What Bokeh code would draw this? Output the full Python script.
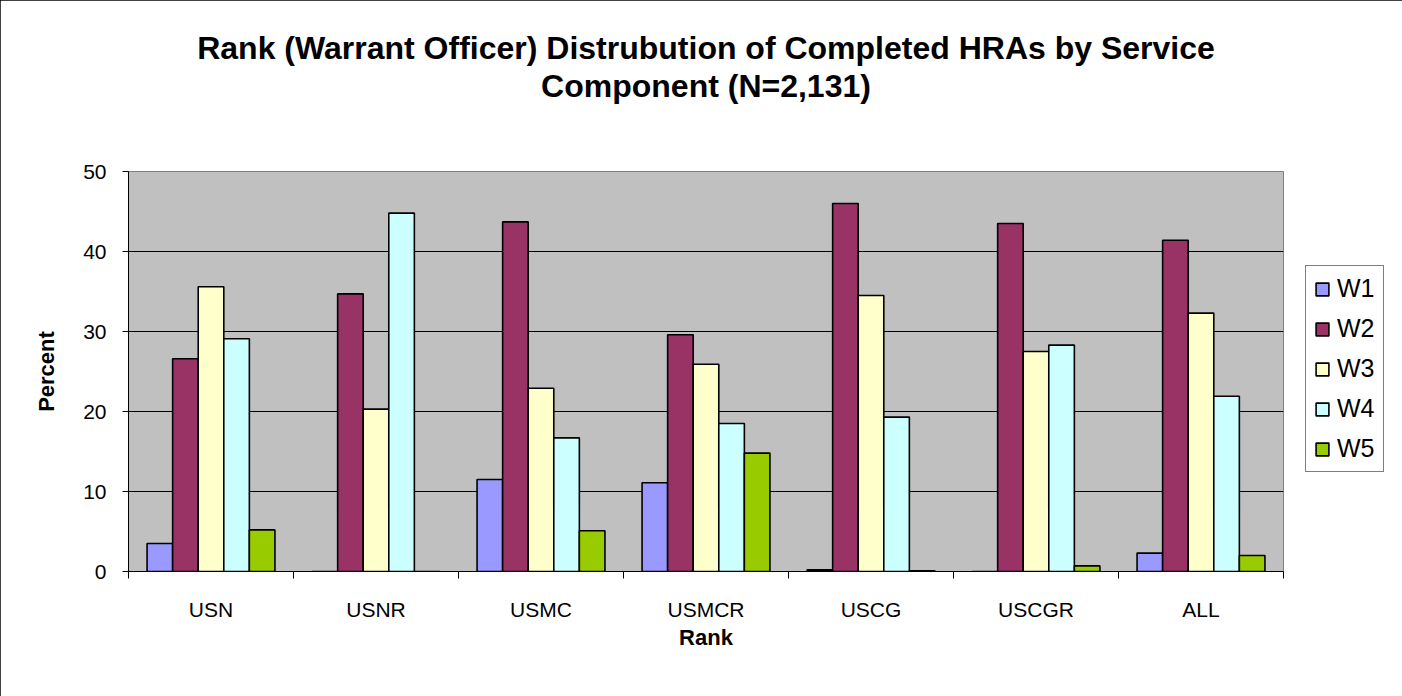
from bokeh.plotting import figure
from bokeh.models import (ColumnDataSource, Range1d, FixedTicker, Legend, LegendItem, Title)
from bokeh.embed import file_html
from bokeh.resources import INLINE

# ---------------- data ----------------
components = ["USN", "USNR", "USMC", "USMCR", "USCG", "USCGR", "ALL"]
series_names = ["W1", "W2", "W3", "W4", "W5"]
w1 = [3.5, 0.0, 11.5, 11.1, 0.2, 0.0, 2.3]
w2 = [26.6, 34.7, 43.7, 29.6, 46.0, 43.5, 41.4]
w3 = [35.6, 20.3, 22.9, 25.9, 34.5, 27.5, 32.3]
w4 = [29.1, 44.8, 16.7, 18.5, 19.3, 28.3, 21.9]
w5 = [5.2, 0.0, 5.1, 14.8, 0.1, 0.7, 2.0]
series_values = [w1, w2, w3, w4, w5]
colors = ["#9999FF", "#993366", "#FFFFCC", "#CCFFFF", "#99CC00"]
y_ticks = [0, 10, 20, 30, 40, 50]
title_lines = ["Rank (Warrant Officer) Distrubution of Completed HRAs by Service",
               "Component (N=2,131)"]

FONT = "Liberation Sans"
bar_w = 0.155

p = figure(frame_width=1155, frame_height=400, output_backend="svg", toolbar_location=None,
           x_range=Range1d(0, len(components)), y_range=Range1d(0, 50),
           min_border_left=128, min_border_right=118, min_border_top=171,
           min_border_bottom=125)
p.background_fill_color = "#C0C0C0"
p.border_fill_color = "white"
p.outline_line_color = "#808080"
p.outline_line_width = 1
p.styles = {"outline": "1px solid black", "outline-offset": "-1px"}

# title: two centred lines (p.title is the outer one)
p.title.text = title_lines[0]
p.title.align = "center"
p.title.text_font = FONT
p.title.text_font_size = "32px"
p.title.text_font_style = "bold"
p.title.text_color = "black"
p.title.standoff = 0
p.add_layout(Title(text=title_lines[1], align="center",
                   text_font=FONT, text_font_size="32px", text_font_style="bold",
                   text_color="black", standoff=0, padding=(0, 0, 0, 68)), "above")

items = []
for j, (name, vals) in enumerate(zip(series_names, series_values)):
    xs = [i + 0.5 + (j - 2) * bar_w for i in range(len(components))]
    src = ColumnDataSource(dict(x=xs, top=vals, comp=components))
    r = p.vbar(x="x", top="top", bottom=0, width=bar_w, source=src,
               fill_color=colors[j], line_color="black", line_width=1.6)
    items.append(LegendItem(label=name, renderers=[r]))

# grid
p.xgrid.visible = False
p.ygrid.ticker = FixedTicker(ticks=y_ticks)
p.ygrid.grid_line_color = "black"
p.ygrid.grid_line_width = 1

# y axis
p.yaxis.ticker = FixedTicker(ticks=y_ticks)
p.yaxis.axis_label = "Percent"
p.yaxis.axis_label_text_font = FONT
p.yaxis.axis_label_text_font_size = "22px"
p.yaxis.axis_label_text_font_style = "bold"
p.yaxis.axis_label_text_color = "black"
p.yaxis.axis_label_standoff = 21
p.yaxis.major_label_text_font = FONT
p.yaxis.major_label_text_font_size = "21px"
p.yaxis.major_label_text_color = "black"
p.yaxis.major_label_standoff = 16
p.yaxis.major_tick_out = 6
p.yaxis.major_tick_in = 0
p.yaxis.minor_tick_line_color = None
p.yaxis.axis_line_color = "black"
p.yaxis.major_tick_line_color = "black"

# x axis: labels at group centres, ticks at group boundaries
centers = [i + 0.5 for i in range(len(components))]
bounds = [float(i) for i in range(len(components) + 1)]
p.xaxis.ticker = FixedTicker(ticks=centers, minor_ticks=bounds)
p.xaxis.major_label_overrides = {c: n for c, n in zip(centers, components)}
p.xaxis.major_tick_out = 0
p.xaxis.major_tick_in = 0
p.xaxis.minor_tick_out = 7
p.xaxis.minor_tick_in = 0
p.xaxis.minor_tick_line_color = "black"
p.xaxis.axis_line_color = "black"
p.xaxis.major_label_text_font = FONT
p.xaxis.major_label_text_font_size = "21px"
p.xaxis.major_label_text_color = "black"
p.xaxis.major_label_standoff = 19
p.xaxis.axis_label = "Rank"
p.xaxis.axis_label_text_font = FONT
p.xaxis.axis_label_text_font_size = "22px"
p.xaxis.axis_label_text_font_style = "bold"
p.xaxis.axis_label_text_color = "black"
p.xaxis.axis_label_standoff = 1

legend = Legend(items=items, location=(22, 99))
legend.label_text_font = FONT
legend.label_text_font_size = "25px"
legend.label_text_color = "black"
legend.glyph_width = 16
legend.glyph_height = 16
legend.label_standoff = 7
legend.label_height = 20
legend.spacing = 11
legend.padding = 8
legend.margin = 0
legend.border_line_color = "black"
legend.border_line_width = 1
legend.background_fill_color = "white"
legend.background_fill_alpha = 1
p.add_layout(legend, "right")

open("out.html", "w").write(file_html(p, INLINE))
